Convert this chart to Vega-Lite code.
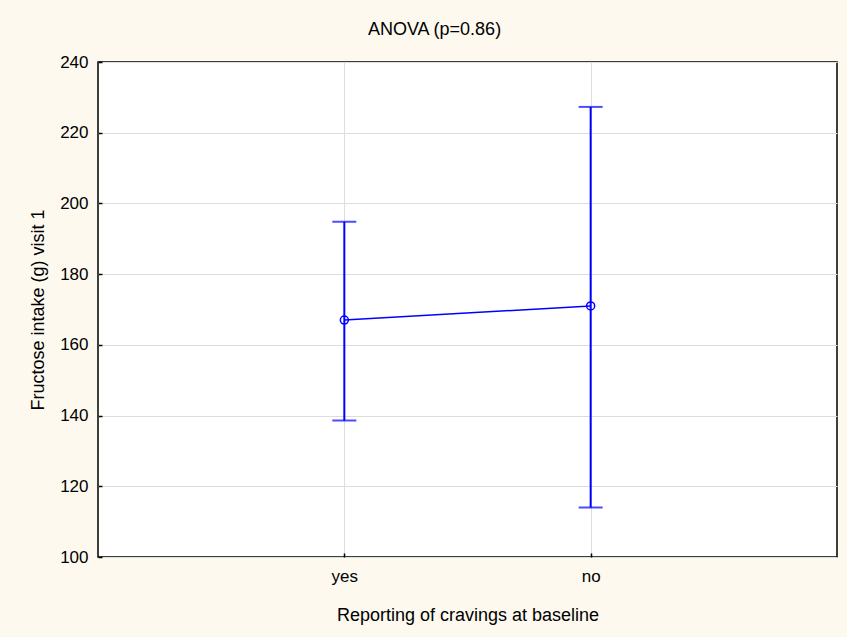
{
  "$schema": "https://vega.github.io/schema/vega-lite/v6.json",
  "autosize": {"type": "none"},
  "width": 739,
  "height": 495,
  "padding": {"left": 98, "top": 62, "right": 10, "bottom": 80},
  "background": "#fdf9ef",
  "title": {"text": "ANOVA (p=0.86)", "font": "Liberation Sans", "fontSize": 18, "fontWeight": "normal", "color": "#000", "anchor": "middle", "dx": -33, "offset": 14},
  "config": {
    "view": {"fill": "#ffffff", "stroke": "#000000", "strokeWidth": 1.5},
    "axis": {"labelFont": "Liberation Sans", "titleFont": "Liberation Sans", "labelFontSize": 17, "titleFontSize": 18, "titleFontWeight": "normal", "labelColor": "#000", "titleColor": "#000", "domain": false, "gridColor": "#dddddd", "gridWidth": 1, "tickColor": "#000", "tickSize": -4, "tickWidth": 1.5}
  },
  "data": {"values": [
    {"group": "yes", "mean": 167, "low": 138.6, "high": 194.8},
    {"group": "no", "mean": 171, "low": 114, "high": 227.3}
  ]},
  "encoding": {
    "x": {"field": "group", "type": "nominal", "sort": ["yes", "no"], "scale": {"type": "point", "padding": 1}, "axis": {"title": "Reporting of cravings at baseline", "labelAngle": 0, "labelPadding": 15, "titlePadding": 22, "grid": true}}
  },
  "layer": [
    {"mark": {"type": "rule", "color": "#0000ff", "strokeWidth": 2},
     "encoding": {"y": {"field": "low", "type": "quantitative", "scale": {"domain": [100, 240]}, "axis": {"title": "Fructose intake (g) visit 1", "values": [100, 120, 140, 160, 180, 200, 220, 240], "labelPadding": 14, "titlePadding": 12, "grid": true}}, "y2": {"field": "high"}}},
    {"mark": {"type": "tick", "color": "#0000ff", "size": 24, "thickness": 2, "orient": "horizontal"},
     "encoding": {"y": {"field": "low", "type": "quantitative"}}},
    {"mark": {"type": "tick", "color": "#0000ff", "size": 24, "thickness": 2, "orient": "horizontal"},
     "encoding": {"y": {"field": "high", "type": "quantitative"}}},
    {"mark": {"type": "line", "color": "#0000ff", "strokeWidth": 1.5},
     "encoding": {"y": {"field": "mean", "type": "quantitative"}}},
    {"mark": {"type": "point", "color": "#0000ff", "filled": false, "size": 64, "strokeWidth": 1.5, "opacity": 1},
     "encoding": {"y": {"field": "mean", "type": "quantitative"}}}
  ]
}
